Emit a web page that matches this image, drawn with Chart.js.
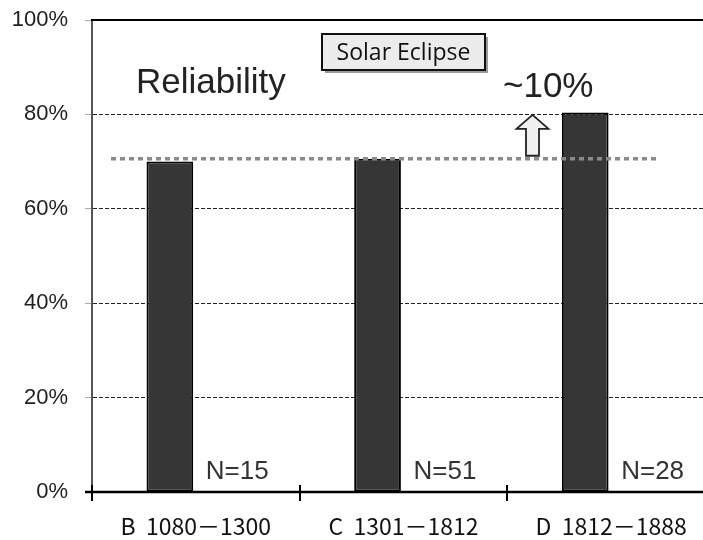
<!DOCTYPE html>
<html>
<head>
<meta charset="utf-8">
<script src="https://cdn.jsdelivr.net/npm/chart.js@4"></script>
<style>
  html, body { margin: 0; padding: 0; background: #fff; overflow: hidden; width: 703px; height: 540px; }
  #wrap { width: 730px; height: 540px; }
</style>
</head>
<body>
<div id="wrap"><canvas id="c" width="730" height="540"></canvas></div>
<script>
// ---- data ----
const categories = ["B  1080\uFF0D1300", "C  1301\uFF0D1812", "D  1812\uFF0D1888"];
const reliability = [70.0, 70.6, 80.4];
const sampleSizes = ["N=15", "N=51", "N=28"];
const yTicks = [0, 20, 40, 60, 80, 100];
const referenceLevel = 70.6;
const chartTitle = "Reliability";
const boxLabel = "Solar Eclipse";
const gainLabel = "~10%";

const overlay = {
  id: 'overlay',
  beforeDatasetsDraw(chart) {
    const { ctx, chartArea: a, scales: { x, y } } = chart;
    ctx.save();
    ctx.strokeStyle = '#000';
    ctx.lineWidth = 2;
    ctx.beginPath();
    ctx.moveTo(a.left - 1, y.getPixelForValue(100));
    ctx.lineTo(a.right, y.getPixelForValue(100));
    ctx.stroke();
    ctx.restore();
  },
  afterDatasetsDraw(chart) {
    const { ctx, chartArea: a, scales: { x, y } } = chart;
    ctx.save();
    const y0 = y.getPixelForValue(0);
    ctx.strokeStyle = '#000';
    ctx.lineWidth = 2.5;
    ctx.beginPath();
    ctx.moveTo(a.left - 7, y0);
    ctx.lineTo(a.right, y0);
    ctx.stroke();
    ctx.lineWidth = 2;
    const n = categories.length;
    const step = x.getPixelForValue(1) - x.getPixelForValue(0);
    for (let i = 0; i <= n; i++) {
      const bx = Math.round(x.getPixelForValue(0) - step / 2 + i * step);
      ctx.beginPath();
      ctx.moveTo(bx, y0 - 7);
      ctx.lineTo(bx, y0 + 9);
      ctx.stroke();
    }
    const ry = y.getPixelForValue(referenceLevel);
    ctx.strokeStyle = '#8a8a8a';
    ctx.lineWidth = 3.5;
    ctx.setLineDash([5, 4]);
    ctx.beginPath();
    ctx.moveTo(a.left + 19, ry);
    ctx.lineTo(x.getPixelForValue(2) + 47, ry);
    ctx.stroke();
    ctx.setLineDash([]);

    ctx.fillStyle = '#333';
    ctx.font = '26px "Liberation Sans", Arial, sans-serif';
    ctx.textAlign = 'left';
    ctx.textBaseline = 'alphabetic';
    sampleSizes.forEach((s, i) => {
      ctx.fillText(s, x.getPixelForValue(i) + 10, y0 - 13);
    });

    ctx.fillStyle = '#222';
    ctx.font = '35px "Liberation Sans", Arial, sans-serif';
    ctx.fillText(chartTitle, 136, 93);
    ctx.fillText(gainLabel, 503, 97);

    const ax = 532.5;
    const top = y.getPixelForValue(80) + 0.5;
    const bot = ry - 3;
    const headH = 14, headW = 16, shaftW = 6.5;
    ctx.beginPath();
    ctx.moveTo(ax, top);
    ctx.lineTo(ax + headW, top + headH);
    ctx.lineTo(ax + shaftW, top + headH);
    ctx.lineTo(ax + shaftW, bot);
    ctx.lineTo(ax - shaftW, bot);
    ctx.lineTo(ax - shaftW, top + headH);
    ctx.lineTo(ax - headW, top + headH);
    ctx.closePath();
    ctx.fillStyle = '#efefef';
    ctx.fill();
    ctx.strokeStyle = '#222';
    ctx.lineWidth = 1.8;
    ctx.stroke();

    const bx = 322, by = 34, bw = 163, bh = 36;
    ctx.fillStyle = '#9a9a9a';
    ctx.fillRect(bx + 3, by + 3, bw, bh);
    ctx.fillStyle = '#ececec';
    ctx.fillRect(bx, by, bw, bh);
    ctx.strokeStyle = '#111';
    ctx.lineWidth = 2;
    ctx.strokeRect(bx, by, bw, bh);
    ctx.fillStyle = '#111';
    ctx.font = '23px "Open Sans", "Noto Sans", sans-serif';
    ctx.textAlign = 'center';
    ctx.textBaseline = 'middle';
    ctx.fillText(boxLabel, bx + bw / 2, by + bh / 2 + 1);
    ctx.restore();
  }
};

new Chart(document.getElementById('c'), {
  type: 'bar',
  data: {
    labels: categories,
    datasets: [
      {
        label: 'Reliability',
        data: reliability,
        backgroundColor: '#363636',
        borderColor: '#000',
        borderWidth: 2,
        borderSkipped: false,
        barPercentage: 0.9,
        categoryPercentage: 0.5
      },
      {
        label: 'N',
        data: reliability.map(() => null),
        backgroundColor: 'rgba(0,0,0,0)',
        barPercentage: 0.9,
        categoryPercentage: 0.5
      }
    ]
  },
  options: {
    responsive: false,
    animation: false,
    devicePixelRatio: 1,
    layout: { padding: { left: 0, top: 20, right: 15, bottom: 0 } },
    plugins: { legend: { display: false }, tooltip: { enabled: false } },
    scales: {
      x: {
        grid: { display: false },
        border: { display: false },
        ticks: {
          color: '#111',
          font: { family: '"Noto Sans CJK JP", sans-serif', size: 23 },
          padding: 12,
          maxRotation: 0
        },
        afterFit(s) { s.height = 48; s.paddingLeft = 0; s.paddingRight = 0; }
      },
      y: {
        min: 0,
        max: 100,
        afterBuildTicks(s) { s.ticks = yTicks.map(v => ({ value: v })); },
        ticks: {
          callback: v => v + '%',
          color: '#222',
          font: { family: '"Liberation Sans", Arial, sans-serif', size: 22 },
          padding: 17
        },
        grid: {
          color: c => (c.tick && (c.tick.value === 0 || c.tick.value === 100)) ? 'rgba(0,0,0,0)' : '#222',
          tickColor: '#aaa',
          tickLength: 7,
          lineWidth: 1
        },
        border: { display: true, color: '#555', width: 2, dash: [4, 2] },
        afterFit(s) { s.width = 92; s.paddingTop = 0; s.paddingBottom = 0; }
      }
    }
  },
  plugins: [overlay]
});
</script>
</body>
</html>
